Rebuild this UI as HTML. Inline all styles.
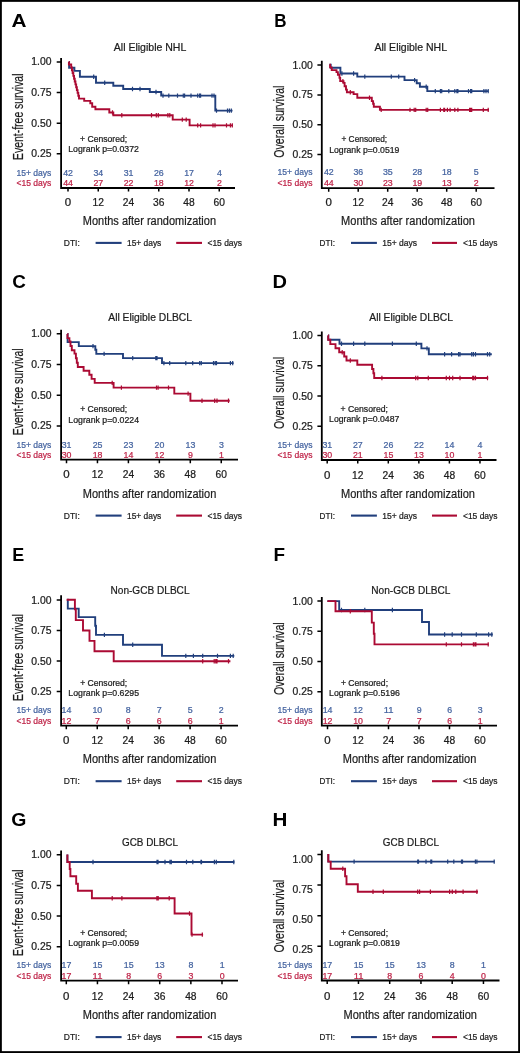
<!DOCTYPE html>
<html><head><meta charset="utf-8"><title>Kaplan-Meier curves</title>
<style>
html,body{margin:0;padding:0;background:#fff;}
body{width:520px;height:1053px;overflow:hidden;}
svg{display:block;font-family:"Liberation Sans", sans-serif;will-change:transform;}
</style></head>
<body>
<svg width="520" height="1053" viewBox="0 0 520 1053">
<rect x="0" y="0" width="520" height="1053" fill="#fff"/>
<rect x="0.9" y="0.9" width="518.2" height="1051.2" fill="none" stroke="#000" stroke-width="1.9"/>
<text x="11.50" y="27.20" font-size="18.9" fill="#000" font-weight="bold" text-anchor="start" textLength="15.02" lengthAdjust="spacingAndGlyphs">A</text>
<text x="113.80" y="50.50" font-size="11.4" fill="#1c1c1c" font-weight="normal" text-anchor="start" textLength="72.50" lengthAdjust="spacingAndGlyphs" stroke="#1c1c1c" stroke-width="0.24">All Eligible NHL</text>
<text transform="translate(22.90,160.00) rotate(-90)" x="0" y="0" font-size="14.4" fill="#1c1c1c" stroke="#1c1c1c" stroke-width="0.22" textLength="86.50" lengthAdjust="spacingAndGlyphs">Event-free survival</text>
<path d="M61.10,58.00V188.00H235.00" fill="none" stroke="#000" stroke-width="1.8" stroke-linejoin="miter"/>
<text x="51.50" y="65.40" font-size="10" fill="#1c1c1c" font-weight="normal" text-anchor="end" textLength="20.20" lengthAdjust="spacingAndGlyphs" stroke="#1c1c1c" stroke-width="0.24">1.00</text>
<text x="51.50" y="96.05" font-size="10" fill="#1c1c1c" font-weight="normal" text-anchor="end" textLength="20.20" lengthAdjust="spacingAndGlyphs" stroke="#1c1c1c" stroke-width="0.24">0.75</text>
<text x="51.50" y="126.70" font-size="10" fill="#1c1c1c" font-weight="normal" text-anchor="end" textLength="20.20" lengthAdjust="spacingAndGlyphs" stroke="#1c1c1c" stroke-width="0.24">0.50</text>
<text x="51.50" y="157.35" font-size="10" fill="#1c1c1c" font-weight="normal" text-anchor="end" textLength="20.20" lengthAdjust="spacingAndGlyphs" stroke="#1c1c1c" stroke-width="0.24">0.25</text>
<text x="68.00" y="205.60" font-size="10.2" fill="#1c1c1c" font-weight="normal" text-anchor="middle" textLength="6.40" lengthAdjust="spacingAndGlyphs" stroke="#1c1c1c" stroke-width="0.24">0</text>
<text x="98.25" y="205.60" font-size="10.2" fill="#1c1c1c" font-weight="normal" text-anchor="middle" textLength="11.40" lengthAdjust="spacingAndGlyphs" stroke="#1c1c1c" stroke-width="0.24">12</text>
<text x="128.50" y="205.60" font-size="10.2" fill="#1c1c1c" font-weight="normal" text-anchor="middle" textLength="11.40" lengthAdjust="spacingAndGlyphs" stroke="#1c1c1c" stroke-width="0.24">24</text>
<text x="158.75" y="205.60" font-size="10.2" fill="#1c1c1c" font-weight="normal" text-anchor="middle" textLength="11.40" lengthAdjust="spacingAndGlyphs" stroke="#1c1c1c" stroke-width="0.24">36</text>
<text x="189.00" y="205.60" font-size="10.2" fill="#1c1c1c" font-weight="normal" text-anchor="middle" textLength="11.40" lengthAdjust="spacingAndGlyphs" stroke="#1c1c1c" stroke-width="0.24">48</text>
<text x="219.25" y="205.60" font-size="10.2" fill="#1c1c1c" font-weight="normal" text-anchor="middle" textLength="11.40" lengthAdjust="spacingAndGlyphs" stroke="#1c1c1c" stroke-width="0.24">60</text>
<path d="M56.70,61.90H61.10M56.70,92.55H61.10M56.70,123.20H61.10M56.70,153.85H61.10M68.00,188.00V191.60M98.25,188.00V191.60M128.50,188.00V191.60M158.75,188.00V191.60M189.00,188.00V191.60M219.25,188.00V191.60" fill="none" stroke="#000" stroke-width="1.5"/>
<path d="M68.70,61.90H69.10V67.80H74.40V70.90H79.90V76.80H96.00V82.80H113.30V85.80H123.20V89.00H149.80V92.00H161.20V95.60H215.30V110.60H232.50" fill="none" stroke="#213f7c" stroke-width="1.9" stroke-linejoin="miter" stroke-linecap="butt"/>
<path d="M93.70,74.60V79.00M104.70,80.60V85.00M132.50,86.80V91.20M140.00,86.80V91.20M156.00,89.80V94.20M163.00,93.40V97.80M168.80,93.40V97.80M177.50,93.40V97.80M183.30,93.40V97.80M184.60,93.40V97.80M191.00,93.40V97.80M197.70,93.40V97.80M199.60,93.40V97.80M200.60,93.40V97.80M212.00,93.40V97.80M214.00,93.40V97.80M216.50,108.40V112.80M227.50,108.40V112.80M229.40,108.40V112.80M231.30,108.40V112.80" fill="none" stroke="#213f7c" stroke-width="1.2"/>
<path d="M68.70,61.90H68.90V64.50H71.20V67.34H71.91V70.18H72.62V73.03H73.33V75.87H74.04V78.71H74.75V81.55H75.45V84.39H76.16V87.23H76.87V90.08H77.58V92.92H78.29V95.76H79.00V98.60H84.20V100.90H90.30V103.30H92.20V106.70H95.40V109.30H109.30V112.50H113.30V115.30H172.70V119.60H189.60V125.40H233.00" fill="none" stroke="#ab0a33" stroke-width="1.9" stroke-linejoin="miter" stroke-linecap="butt"/>
<path d="M112.50,110.30V114.70M121.80,113.10V117.50M151.50,113.10V117.50M156.30,113.10V117.50M158.30,113.10V117.50M167.90,113.10V117.50M169.80,113.10V117.50M182.30,117.40V121.80M186.20,117.40V121.80M197.70,123.20V127.60M200.60,123.20V127.60M213.00,123.20V127.60M215.00,123.20V127.60M226.50,123.20V127.60M230.40,123.20V127.60M232.30,123.20V127.60" fill="none" stroke="#ab0a33" stroke-width="1.2"/>
<text x="103.60" y="141.90" font-size="9.1" fill="#1c1c1c" font-weight="normal" text-anchor="middle" textLength="47.10" lengthAdjust="spacingAndGlyphs" stroke="#1c1c1c" stroke-width="0.24">+ Censored;</text>
<text x="103.60" y="152.30" font-size="9.1" fill="#1c1c1c" font-weight="normal" text-anchor="middle" textLength="70.70" lengthAdjust="spacingAndGlyphs" stroke="#1c1c1c" stroke-width="0.24">Logrank p=0.0372</text>
<text x="16.50" y="175.50" font-size="9.5" fill="#4564a0" font-weight="normal" text-anchor="start" textLength="34.80" lengthAdjust="spacingAndGlyphs" stroke="#4564a0" stroke-width="0.24">15+ days</text>
<text x="16.50" y="185.80" font-size="9.5" fill="#bf2448" font-weight="normal" text-anchor="start" textLength="34.80" lengthAdjust="spacingAndGlyphs" stroke="#bf2448" stroke-width="0.24">&lt;15 days</text>
<text x="68.10" y="175.50" font-size="8.9" fill="#4564a0" font-weight="normal" text-anchor="middle" textLength="9.80" lengthAdjust="spacingAndGlyphs" stroke="#4564a0" stroke-width="0.24">42</text>
<text x="68.10" y="185.80" font-size="8.9" fill="#bf2448" font-weight="normal" text-anchor="middle" textLength="9.80" lengthAdjust="spacingAndGlyphs" stroke="#bf2448" stroke-width="0.24">44</text>
<text x="98.35" y="175.50" font-size="8.9" fill="#4564a0" font-weight="normal" text-anchor="middle" textLength="9.80" lengthAdjust="spacingAndGlyphs" stroke="#4564a0" stroke-width="0.24">34</text>
<text x="98.35" y="185.80" font-size="8.9" fill="#bf2448" font-weight="normal" text-anchor="middle" textLength="9.80" lengthAdjust="spacingAndGlyphs" stroke="#bf2448" stroke-width="0.24">27</text>
<text x="128.60" y="175.50" font-size="8.9" fill="#4564a0" font-weight="normal" text-anchor="middle" textLength="9.80" lengthAdjust="spacingAndGlyphs" stroke="#4564a0" stroke-width="0.24">31</text>
<text x="128.60" y="185.80" font-size="8.9" fill="#bf2448" font-weight="normal" text-anchor="middle" textLength="9.80" lengthAdjust="spacingAndGlyphs" stroke="#bf2448" stroke-width="0.24">22</text>
<text x="158.85" y="175.50" font-size="8.9" fill="#4564a0" font-weight="normal" text-anchor="middle" textLength="9.80" lengthAdjust="spacingAndGlyphs" stroke="#4564a0" stroke-width="0.24">26</text>
<text x="158.85" y="185.80" font-size="8.9" fill="#bf2448" font-weight="normal" text-anchor="middle" textLength="9.80" lengthAdjust="spacingAndGlyphs" stroke="#bf2448" stroke-width="0.24">18</text>
<text x="189.10" y="175.50" font-size="8.9" fill="#4564a0" font-weight="normal" text-anchor="middle" textLength="9.80" lengthAdjust="spacingAndGlyphs" stroke="#4564a0" stroke-width="0.24">17</text>
<text x="189.10" y="185.80" font-size="8.9" fill="#bf2448" font-weight="normal" text-anchor="middle" textLength="9.80" lengthAdjust="spacingAndGlyphs" stroke="#bf2448" stroke-width="0.24">12</text>
<text x="219.35" y="175.50" font-size="8.9" fill="#4564a0" font-weight="normal" text-anchor="middle" textLength="4.90" lengthAdjust="spacingAndGlyphs" stroke="#4564a0" stroke-width="0.24">4</text>
<text x="219.35" y="185.80" font-size="8.9" fill="#bf2448" font-weight="normal" text-anchor="middle" textLength="4.90" lengthAdjust="spacingAndGlyphs" stroke="#bf2448" stroke-width="0.24">2</text>
<text x="82.80" y="224.60" font-size="13.7" fill="#1c1c1c" font-weight="normal" text-anchor="start" textLength="133.20" lengthAdjust="spacingAndGlyphs" stroke="#1c1c1c" stroke-width="0.24">Months after randomization</text>
<text x="63.80" y="245.80" font-size="9.6" fill="#1c1c1c" font-weight="normal" text-anchor="start" textLength="16.00" lengthAdjust="spacingAndGlyphs" stroke="#1c1c1c" stroke-width="0.24">DTI:</text>
<path d="M95.60,242.90H121.60" stroke="#213f7c" stroke-width="2.1"/>
<text x="127.00" y="245.80" font-size="9.6" fill="#1c1c1c" font-weight="normal" text-anchor="start" textLength="34.30" lengthAdjust="spacingAndGlyphs" stroke="#1c1c1c" stroke-width="0.24">15+ days</text>
<path d="M176.20,242.90H202.00" stroke="#ab0a33" stroke-width="2.1"/>
<text x="207.50" y="245.80" font-size="9.6" fill="#1c1c1c" font-weight="normal" text-anchor="start" textLength="34.50" lengthAdjust="spacingAndGlyphs" stroke="#1c1c1c" stroke-width="0.24">&lt;15 days</text>
<text x="274.30" y="27.20" font-size="18.9" fill="#000" font-weight="bold" text-anchor="start" textLength="12.29" lengthAdjust="spacingAndGlyphs">B</text>
<text x="374.50" y="50.50" font-size="11.4" fill="#1c1c1c" font-weight="normal" text-anchor="start" textLength="72.50" lengthAdjust="spacingAndGlyphs" stroke="#1c1c1c" stroke-width="0.24">All Eligible NHL</text>
<text transform="translate(284.00,157.70) rotate(-90)" x="0" y="0" font-size="14.4" fill="#1c1c1c" stroke="#1c1c1c" stroke-width="0.22" textLength="72.10" lengthAdjust="spacingAndGlyphs">Overall survival</text>
<path d="M321.80,60.80V188.10H494.50" fill="none" stroke="#000" stroke-width="1.8" stroke-linejoin="miter"/>
<text x="312.70" y="68.60" font-size="10" fill="#1c1c1c" font-weight="normal" text-anchor="end" textLength="20.20" lengthAdjust="spacingAndGlyphs" stroke="#1c1c1c" stroke-width="0.24">1.00</text>
<text x="312.70" y="98.38" font-size="10" fill="#1c1c1c" font-weight="normal" text-anchor="end" textLength="20.20" lengthAdjust="spacingAndGlyphs" stroke="#1c1c1c" stroke-width="0.24">0.75</text>
<text x="312.70" y="128.15" font-size="10" fill="#1c1c1c" font-weight="normal" text-anchor="end" textLength="20.20" lengthAdjust="spacingAndGlyphs" stroke="#1c1c1c" stroke-width="0.24">0.50</text>
<text x="312.70" y="157.92" font-size="10" fill="#1c1c1c" font-weight="normal" text-anchor="end" textLength="20.20" lengthAdjust="spacingAndGlyphs" stroke="#1c1c1c" stroke-width="0.24">0.25</text>
<text x="328.70" y="205.60" font-size="10.2" fill="#1c1c1c" font-weight="normal" text-anchor="middle" textLength="6.40" lengthAdjust="spacingAndGlyphs" stroke="#1c1c1c" stroke-width="0.24">0</text>
<text x="358.20" y="205.60" font-size="10.2" fill="#1c1c1c" font-weight="normal" text-anchor="middle" textLength="11.40" lengthAdjust="spacingAndGlyphs" stroke="#1c1c1c" stroke-width="0.24">12</text>
<text x="387.70" y="205.60" font-size="10.2" fill="#1c1c1c" font-weight="normal" text-anchor="middle" textLength="11.40" lengthAdjust="spacingAndGlyphs" stroke="#1c1c1c" stroke-width="0.24">24</text>
<text x="417.20" y="205.60" font-size="10.2" fill="#1c1c1c" font-weight="normal" text-anchor="middle" textLength="11.40" lengthAdjust="spacingAndGlyphs" stroke="#1c1c1c" stroke-width="0.24">36</text>
<text x="446.70" y="205.60" font-size="10.2" fill="#1c1c1c" font-weight="normal" text-anchor="middle" textLength="11.40" lengthAdjust="spacingAndGlyphs" stroke="#1c1c1c" stroke-width="0.24">48</text>
<text x="476.20" y="205.60" font-size="10.2" fill="#1c1c1c" font-weight="normal" text-anchor="middle" textLength="11.40" lengthAdjust="spacingAndGlyphs" stroke="#1c1c1c" stroke-width="0.24">60</text>
<path d="M317.40,65.10H321.80M317.40,94.88H321.80M317.40,124.65H321.80M317.40,154.42H321.80M328.70,188.10V191.70M358.20,188.10V191.70M387.70,188.10V191.70M417.20,188.10V191.70M446.70,188.10V191.70M476.20,188.10V191.70" fill="none" stroke="#000" stroke-width="1.5"/>
<path d="M329.40,64.70H330.70V67.70H340.40V73.50H357.30V76.60H404.50V80.10H416.70V83.30H419.90V86.80H427.30V91.10H488.60" fill="none" stroke="#213f7c" stroke-width="1.9" stroke-linejoin="miter" stroke-linecap="butt"/>
<path d="M341.90,71.30V75.70M353.60,71.30V75.70M364.80,74.40V78.80M391.30,74.40V78.80M398.70,74.40V78.80M414.60,77.90V82.30M426.20,84.60V89.00M435.30,88.90V93.30M440.40,88.90V93.30M441.70,88.90V93.30M448.80,88.90V93.30M454.80,88.90V93.30M456.90,88.90V93.30M457.90,88.90V93.30M468.50,88.90V93.30M470.60,88.90V93.30M471.70,88.90V93.30M483.90,88.90V93.30M486.00,88.90V93.30M488.20,88.90V93.30" fill="none" stroke="#213f7c" stroke-width="1.2"/>
<path d="M329.40,64.70H330.10V67.40H331.70V70.10H336.50V72.10H337.90V74.80H339.50V77.90H340.20V81.10H343.50V82.90H344.60V86.30H346.00V89.60H346.90V92.30H353.60V94.10H357.30V97.70H371.80V101.10H373.10V103.80H373.80V106.70H379.90V109.90H489.00" fill="none" stroke="#ab0a33" stroke-width="1.9" stroke-linejoin="miter" stroke-linecap="butt"/>
<path d="M342.90,78.90V83.30M350.30,90.10V94.50M369.50,95.50V99.90M381.20,107.70V112.10M410.00,107.70V112.10M414.20,107.70V112.10M415.70,107.70V112.10M426.20,107.70V112.10M427.70,107.70V112.10M440.40,107.70V112.10M443.80,107.70V112.10M444.60,107.70V112.10M447.40,107.70V112.10M450.10,107.70V112.10M454.80,107.70V112.10M457.90,107.70V112.10M469.60,107.70V112.10M470.60,107.70V112.10M471.70,107.70V112.10M483.30,107.70V112.10M488.20,107.70V112.10" fill="none" stroke="#ab0a33" stroke-width="1.2"/>
<text x="364.30" y="142.30" font-size="9.1" fill="#1c1c1c" font-weight="normal" text-anchor="middle" textLength="45.80" lengthAdjust="spacingAndGlyphs" stroke="#1c1c1c" stroke-width="0.24">+ Censored;</text>
<text x="364.30" y="152.50" font-size="9.1" fill="#1c1c1c" font-weight="normal" text-anchor="middle" textLength="70.30" lengthAdjust="spacingAndGlyphs" stroke="#1c1c1c" stroke-width="0.24">Logrank p=0.0519</text>
<text x="277.50" y="175.20" font-size="9.5" fill="#4564a0" font-weight="normal" text-anchor="start" textLength="35.00" lengthAdjust="spacingAndGlyphs" stroke="#4564a0" stroke-width="0.24">15+ days</text>
<text x="277.50" y="185.60" font-size="9.5" fill="#bf2448" font-weight="normal" text-anchor="start" textLength="35.00" lengthAdjust="spacingAndGlyphs" stroke="#bf2448" stroke-width="0.24">&lt;15 days</text>
<text x="328.80" y="175.20" font-size="8.9" fill="#4564a0" font-weight="normal" text-anchor="middle" textLength="9.80" lengthAdjust="spacingAndGlyphs" stroke="#4564a0" stroke-width="0.24">42</text>
<text x="328.80" y="185.60" font-size="8.9" fill="#bf2448" font-weight="normal" text-anchor="middle" textLength="9.80" lengthAdjust="spacingAndGlyphs" stroke="#bf2448" stroke-width="0.24">44</text>
<text x="358.30" y="175.20" font-size="8.9" fill="#4564a0" font-weight="normal" text-anchor="middle" textLength="9.80" lengthAdjust="spacingAndGlyphs" stroke="#4564a0" stroke-width="0.24">36</text>
<text x="358.30" y="185.60" font-size="8.9" fill="#bf2448" font-weight="normal" text-anchor="middle" textLength="9.80" lengthAdjust="spacingAndGlyphs" stroke="#bf2448" stroke-width="0.24">30</text>
<text x="387.80" y="175.20" font-size="8.9" fill="#4564a0" font-weight="normal" text-anchor="middle" textLength="9.80" lengthAdjust="spacingAndGlyphs" stroke="#4564a0" stroke-width="0.24">35</text>
<text x="387.80" y="185.60" font-size="8.9" fill="#bf2448" font-weight="normal" text-anchor="middle" textLength="9.80" lengthAdjust="spacingAndGlyphs" stroke="#bf2448" stroke-width="0.24">23</text>
<text x="417.30" y="175.20" font-size="8.9" fill="#4564a0" font-weight="normal" text-anchor="middle" textLength="9.80" lengthAdjust="spacingAndGlyphs" stroke="#4564a0" stroke-width="0.24">28</text>
<text x="417.30" y="185.60" font-size="8.9" fill="#bf2448" font-weight="normal" text-anchor="middle" textLength="9.80" lengthAdjust="spacingAndGlyphs" stroke="#bf2448" stroke-width="0.24">19</text>
<text x="446.80" y="175.20" font-size="8.9" fill="#4564a0" font-weight="normal" text-anchor="middle" textLength="9.80" lengthAdjust="spacingAndGlyphs" stroke="#4564a0" stroke-width="0.24">18</text>
<text x="446.80" y="185.60" font-size="8.9" fill="#bf2448" font-weight="normal" text-anchor="middle" textLength="9.80" lengthAdjust="spacingAndGlyphs" stroke="#bf2448" stroke-width="0.24">13</text>
<text x="476.30" y="175.20" font-size="8.9" fill="#4564a0" font-weight="normal" text-anchor="middle" textLength="4.90" lengthAdjust="spacingAndGlyphs" stroke="#4564a0" stroke-width="0.24">5</text>
<text x="476.30" y="185.60" font-size="8.9" fill="#bf2448" font-weight="normal" text-anchor="middle" textLength="4.90" lengthAdjust="spacingAndGlyphs" stroke="#bf2448" stroke-width="0.24">2</text>
<text x="341.10" y="224.60" font-size="13.7" fill="#1c1c1c" font-weight="normal" text-anchor="start" textLength="133.90" lengthAdjust="spacingAndGlyphs" stroke="#1c1c1c" stroke-width="0.24">Months after randomization</text>
<text x="319.60" y="245.80" font-size="9.6" fill="#1c1c1c" font-weight="normal" text-anchor="start" textLength="15.40" lengthAdjust="spacingAndGlyphs" stroke="#1c1c1c" stroke-width="0.24">DTI:</text>
<path d="M351.00,242.90H376.90" stroke="#213f7c" stroke-width="2.1"/>
<text x="382.20" y="245.80" font-size="9.6" fill="#1c1c1c" font-weight="normal" text-anchor="start" textLength="34.80" lengthAdjust="spacingAndGlyphs" stroke="#1c1c1c" stroke-width="0.24">15+ days</text>
<path d="M432.00,242.90H457.00" stroke="#ab0a33" stroke-width="2.1"/>
<text x="463.00" y="245.80" font-size="9.6" fill="#1c1c1c" font-weight="normal" text-anchor="start" textLength="34.50" lengthAdjust="spacingAndGlyphs" stroke="#1c1c1c" stroke-width="0.24">&lt;15 days</text>
<text x="12.20" y="287.50" font-size="18.9" fill="#000" font-weight="bold" text-anchor="start" textLength="13.65" lengthAdjust="spacingAndGlyphs">C</text>
<text x="108.30" y="321.30" font-size="11.4" fill="#1c1c1c" font-weight="normal" text-anchor="start" textLength="83.70" lengthAdjust="spacingAndGlyphs" stroke="#1c1c1c" stroke-width="0.24">All Eligible DLBCL</text>
<text transform="translate(22.90,435.30) rotate(-90)" x="0" y="0" font-size="14.4" fill="#1c1c1c" stroke="#1c1c1c" stroke-width="0.22" textLength="87.00" lengthAdjust="spacingAndGlyphs">Event-free survival</text>
<path d="M61.10,329.80V459.70H238.00" fill="none" stroke="#000" stroke-width="1.8" stroke-linejoin="miter"/>
<text x="51.50" y="337.30" font-size="10" fill="#1c1c1c" font-weight="normal" text-anchor="end" textLength="20.20" lengthAdjust="spacingAndGlyphs" stroke="#1c1c1c" stroke-width="0.24">1.00</text>
<text x="51.50" y="368.00" font-size="10" fill="#1c1c1c" font-weight="normal" text-anchor="end" textLength="20.20" lengthAdjust="spacingAndGlyphs" stroke="#1c1c1c" stroke-width="0.24">0.75</text>
<text x="51.50" y="398.70" font-size="10" fill="#1c1c1c" font-weight="normal" text-anchor="end" textLength="20.20" lengthAdjust="spacingAndGlyphs" stroke="#1c1c1c" stroke-width="0.24">0.50</text>
<text x="51.50" y="429.40" font-size="10" fill="#1c1c1c" font-weight="normal" text-anchor="end" textLength="20.20" lengthAdjust="spacingAndGlyphs" stroke="#1c1c1c" stroke-width="0.24">0.25</text>
<text x="66.50" y="478.40" font-size="10.2" fill="#1c1c1c" font-weight="normal" text-anchor="middle" textLength="6.40" lengthAdjust="spacingAndGlyphs" stroke="#1c1c1c" stroke-width="0.24">0</text>
<text x="97.45" y="478.40" font-size="10.2" fill="#1c1c1c" font-weight="normal" text-anchor="middle" textLength="11.40" lengthAdjust="spacingAndGlyphs" stroke="#1c1c1c" stroke-width="0.24">12</text>
<text x="128.40" y="478.40" font-size="10.2" fill="#1c1c1c" font-weight="normal" text-anchor="middle" textLength="11.40" lengthAdjust="spacingAndGlyphs" stroke="#1c1c1c" stroke-width="0.24">24</text>
<text x="159.35" y="478.40" font-size="10.2" fill="#1c1c1c" font-weight="normal" text-anchor="middle" textLength="11.40" lengthAdjust="spacingAndGlyphs" stroke="#1c1c1c" stroke-width="0.24">36</text>
<text x="190.30" y="478.40" font-size="10.2" fill="#1c1c1c" font-weight="normal" text-anchor="middle" textLength="11.40" lengthAdjust="spacingAndGlyphs" stroke="#1c1c1c" stroke-width="0.24">48</text>
<text x="221.25" y="478.40" font-size="10.2" fill="#1c1c1c" font-weight="normal" text-anchor="middle" textLength="11.40" lengthAdjust="spacingAndGlyphs" stroke="#1c1c1c" stroke-width="0.24">60</text>
<path d="M56.70,333.80H61.10M56.70,364.50H61.10M56.70,395.20H61.10M56.70,425.90H61.10M66.50,459.70V463.30M97.45,459.70V463.30M128.40,459.70V463.30M159.35,459.70V463.30M190.30,459.70V463.30M221.25,459.70V463.30" fill="none" stroke="#000" stroke-width="1.5"/>
<path d="M67.40,333.90H67.60V342.10H78.80V346.10H95.30V349.80H96.30V353.90H123.00V358.10H162.00V363.10H233.60" fill="none" stroke="#213f7c" stroke-width="1.9" stroke-linejoin="miter" stroke-linecap="butt"/>
<path d="M93.00,343.90V348.30M104.10,351.70V356.10M132.70,355.90V360.30M155.80,355.90V360.30M157.00,355.90V360.30M163.90,360.90V365.30M169.70,360.90V365.30M185.80,360.90V365.30M192.70,360.90V365.30M199.70,360.90V365.30M201.30,360.90V365.30M213.50,360.90V365.30M215.20,360.90V365.30M216.50,360.90V365.30M230.40,360.90V365.30M232.70,360.90V365.30" fill="none" stroke="#213f7c" stroke-width="1.2"/>
<path d="M67.40,333.90H67.50V338.10H69.40V341.50H70.50V346.00H71.80V350.20H74.50V353.60H75.90V358.30H76.80V362.70H77.80V367.00H83.60V370.80H89.30V374.80H91.60V378.90H94.70V382.90H113.60V387.60H174.30V393.60H190.40V400.70H229.70" fill="none" stroke="#ab0a33" stroke-width="1.9" stroke-linejoin="miter" stroke-linecap="butt"/>
<path d="M112.20,380.70V385.10M121.40,385.40V389.80M156.50,385.40V389.80M158.10,385.40V389.80M168.50,385.40V389.80M188.10,391.40V395.80M202.00,398.50V402.90M214.70,398.50V402.90M217.00,398.50V402.90M228.50,398.50V402.90" fill="none" stroke="#ab0a33" stroke-width="1.2"/>
<text x="103.70" y="412.30" font-size="9.1" fill="#1c1c1c" font-weight="normal" text-anchor="middle" textLength="47.10" lengthAdjust="spacingAndGlyphs" stroke="#1c1c1c" stroke-width="0.24">+ Censored;</text>
<text x="103.70" y="422.90" font-size="9.1" fill="#1c1c1c" font-weight="normal" text-anchor="middle" textLength="70.70" lengthAdjust="spacingAndGlyphs" stroke="#1c1c1c" stroke-width="0.24">Logrank p=0.0224</text>
<text x="16.50" y="447.90" font-size="9.5" fill="#4564a0" font-weight="normal" text-anchor="start" textLength="34.80" lengthAdjust="spacingAndGlyphs" stroke="#4564a0" stroke-width="0.24">15+ days</text>
<text x="16.50" y="458.40" font-size="9.5" fill="#bf2448" font-weight="normal" text-anchor="start" textLength="34.80" lengthAdjust="spacingAndGlyphs" stroke="#bf2448" stroke-width="0.24">&lt;15 days</text>
<text x="66.60" y="447.90" font-size="8.9" fill="#4564a0" font-weight="normal" text-anchor="middle" textLength="9.80" lengthAdjust="spacingAndGlyphs" stroke="#4564a0" stroke-width="0.24">31</text>
<text x="66.60" y="458.40" font-size="8.9" fill="#bf2448" font-weight="normal" text-anchor="middle" textLength="9.80" lengthAdjust="spacingAndGlyphs" stroke="#bf2448" stroke-width="0.24">30</text>
<text x="97.55" y="447.90" font-size="8.9" fill="#4564a0" font-weight="normal" text-anchor="middle" textLength="9.80" lengthAdjust="spacingAndGlyphs" stroke="#4564a0" stroke-width="0.24">25</text>
<text x="97.55" y="458.40" font-size="8.9" fill="#bf2448" font-weight="normal" text-anchor="middle" textLength="9.80" lengthAdjust="spacingAndGlyphs" stroke="#bf2448" stroke-width="0.24">18</text>
<text x="128.50" y="447.90" font-size="8.9" fill="#4564a0" font-weight="normal" text-anchor="middle" textLength="9.80" lengthAdjust="spacingAndGlyphs" stroke="#4564a0" stroke-width="0.24">23</text>
<text x="128.50" y="458.40" font-size="8.9" fill="#bf2448" font-weight="normal" text-anchor="middle" textLength="9.80" lengthAdjust="spacingAndGlyphs" stroke="#bf2448" stroke-width="0.24">14</text>
<text x="159.45" y="447.90" font-size="8.9" fill="#4564a0" font-weight="normal" text-anchor="middle" textLength="9.80" lengthAdjust="spacingAndGlyphs" stroke="#4564a0" stroke-width="0.24">20</text>
<text x="159.45" y="458.40" font-size="8.9" fill="#bf2448" font-weight="normal" text-anchor="middle" textLength="9.80" lengthAdjust="spacingAndGlyphs" stroke="#bf2448" stroke-width="0.24">12</text>
<text x="190.40" y="447.90" font-size="8.9" fill="#4564a0" font-weight="normal" text-anchor="middle" textLength="9.80" lengthAdjust="spacingAndGlyphs" stroke="#4564a0" stroke-width="0.24">13</text>
<text x="190.40" y="458.40" font-size="8.9" fill="#bf2448" font-weight="normal" text-anchor="middle" textLength="4.90" lengthAdjust="spacingAndGlyphs" stroke="#bf2448" stroke-width="0.24">9</text>
<text x="221.35" y="447.90" font-size="8.9" fill="#4564a0" font-weight="normal" text-anchor="middle" textLength="4.90" lengthAdjust="spacingAndGlyphs" stroke="#4564a0" stroke-width="0.24">3</text>
<text x="221.35" y="458.40" font-size="8.9" fill="#bf2448" font-weight="normal" text-anchor="middle" textLength="4.90" lengthAdjust="spacingAndGlyphs" stroke="#bf2448" stroke-width="0.24">1</text>
<text x="82.80" y="497.50" font-size="13.7" fill="#1c1c1c" font-weight="normal" text-anchor="start" textLength="133.50" lengthAdjust="spacingAndGlyphs" stroke="#1c1c1c" stroke-width="0.24">Months after randomization</text>
<text x="63.80" y="518.80" font-size="9.6" fill="#1c1c1c" font-weight="normal" text-anchor="start" textLength="16.00" lengthAdjust="spacingAndGlyphs" stroke="#1c1c1c" stroke-width="0.24">DTI:</text>
<path d="M95.60,515.60H121.60" stroke="#213f7c" stroke-width="2.1"/>
<text x="127.00" y="518.80" font-size="9.6" fill="#1c1c1c" font-weight="normal" text-anchor="start" textLength="34.30" lengthAdjust="spacingAndGlyphs" stroke="#1c1c1c" stroke-width="0.24">15+ days</text>
<path d="M176.20,515.60H202.00" stroke="#ab0a33" stroke-width="2.1"/>
<text x="207.50" y="518.80" font-size="9.6" fill="#1c1c1c" font-weight="normal" text-anchor="start" textLength="34.50" lengthAdjust="spacingAndGlyphs" stroke="#1c1c1c" stroke-width="0.24">&lt;15 days</text>
<text x="272.60" y="287.50" font-size="18.9" fill="#000" font-weight="bold" text-anchor="start" textLength="14.47" lengthAdjust="spacingAndGlyphs">D</text>
<text x="369.30" y="321.30" font-size="11.4" fill="#1c1c1c" font-weight="normal" text-anchor="start" textLength="83.70" lengthAdjust="spacingAndGlyphs" stroke="#1c1c1c" stroke-width="0.24">All Eligible DLBCL</text>
<text transform="translate(284.00,429.00) rotate(-90)" x="0" y="0" font-size="14.4" fill="#1c1c1c" stroke="#1c1c1c" stroke-width="0.22" textLength="72.10" lengthAdjust="spacingAndGlyphs">Overall survival</text>
<path d="M321.80,331.50V460.00H496.50" fill="none" stroke="#000" stroke-width="1.8" stroke-linejoin="miter"/>
<text x="312.70" y="339.10" font-size="10" fill="#1c1c1c" font-weight="normal" text-anchor="end" textLength="20.20" lengthAdjust="spacingAndGlyphs" stroke="#1c1c1c" stroke-width="0.24">1.00</text>
<text x="312.70" y="369.33" font-size="10" fill="#1c1c1c" font-weight="normal" text-anchor="end" textLength="20.20" lengthAdjust="spacingAndGlyphs" stroke="#1c1c1c" stroke-width="0.24">0.75</text>
<text x="312.70" y="399.55" font-size="10" fill="#1c1c1c" font-weight="normal" text-anchor="end" textLength="20.20" lengthAdjust="spacingAndGlyphs" stroke="#1c1c1c" stroke-width="0.24">0.50</text>
<text x="312.70" y="429.77" font-size="10" fill="#1c1c1c" font-weight="normal" text-anchor="end" textLength="20.20" lengthAdjust="spacingAndGlyphs" stroke="#1c1c1c" stroke-width="0.24">0.25</text>
<text x="327.20" y="478.70" font-size="10.2" fill="#1c1c1c" font-weight="normal" text-anchor="middle" textLength="6.40" lengthAdjust="spacingAndGlyphs" stroke="#1c1c1c" stroke-width="0.24">0</text>
<text x="357.75" y="478.70" font-size="10.2" fill="#1c1c1c" font-weight="normal" text-anchor="middle" textLength="11.40" lengthAdjust="spacingAndGlyphs" stroke="#1c1c1c" stroke-width="0.24">12</text>
<text x="388.30" y="478.70" font-size="10.2" fill="#1c1c1c" font-weight="normal" text-anchor="middle" textLength="11.40" lengthAdjust="spacingAndGlyphs" stroke="#1c1c1c" stroke-width="0.24">24</text>
<text x="418.85" y="478.70" font-size="10.2" fill="#1c1c1c" font-weight="normal" text-anchor="middle" textLength="11.40" lengthAdjust="spacingAndGlyphs" stroke="#1c1c1c" stroke-width="0.24">36</text>
<text x="449.40" y="478.70" font-size="10.2" fill="#1c1c1c" font-weight="normal" text-anchor="middle" textLength="11.40" lengthAdjust="spacingAndGlyphs" stroke="#1c1c1c" stroke-width="0.24">48</text>
<text x="479.95" y="478.70" font-size="10.2" fill="#1c1c1c" font-weight="normal" text-anchor="middle" textLength="11.40" lengthAdjust="spacingAndGlyphs" stroke="#1c1c1c" stroke-width="0.24">60</text>
<path d="M317.40,335.60H321.80M317.40,365.83H321.80M317.40,396.05H321.80M317.40,426.27H321.80M327.20,460.00V463.60M357.75,460.00V463.60M388.30,460.00V463.60M418.85,460.00V463.60M449.40,460.00V463.60M479.95,460.00V463.60" fill="none" stroke="#000" stroke-width="1.5"/>
<path d="M328.10,335.40H328.30V339.70H339.50V343.80H421.40V348.40H428.80V354.30H491.80" fill="none" stroke="#213f7c" stroke-width="1.9" stroke-linejoin="miter" stroke-linecap="butt"/>
<path d="M341.50,341.60V346.00M353.60,341.60V346.00M364.80,341.60V346.00M392.40,341.60V346.00M416.30,341.60V346.00M427.00,346.20V350.60M444.60,352.10V356.50M451.60,352.10V356.50M458.60,352.10V356.50M460.00,352.10V356.50M471.70,352.10V356.50M473.40,352.10V356.50M475.50,352.10V356.50M487.50,352.10V356.50M489.70,352.10V356.50" fill="none" stroke="#213f7c" stroke-width="1.2"/>
<path d="M328.10,335.40H328.20V339.80H330.30V344.10H335.50V348.20H339.20V352.30H344.20V356.50H346.50V360.50H357.30V364.70H372.10V369.00H373.40V373.30H374.20V378.00H488.20" fill="none" stroke="#ab0a33" stroke-width="1.9" stroke-linejoin="miter" stroke-linecap="butt"/>
<path d="M342.20,350.10V354.50M350.30,358.30V362.70M381.90,375.80V380.20M415.70,375.80V380.20M417.80,375.80V380.20M428.30,375.80V380.20M446.30,375.80V380.20M449.50,375.80V380.20M452.70,375.80V380.20M460.00,375.80V380.20M472.70,375.80V380.20M473.80,375.80V380.20M475.50,375.80V380.20M487.50,375.80V380.20" fill="none" stroke="#ab0a33" stroke-width="1.2"/>
<text x="364.20" y="412.30" font-size="9.1" fill="#1c1c1c" font-weight="normal" text-anchor="middle" textLength="47.50" lengthAdjust="spacingAndGlyphs" stroke="#1c1c1c" stroke-width="0.24">+ Censored;</text>
<text x="364.20" y="422.30" font-size="9.1" fill="#1c1c1c" font-weight="normal" text-anchor="middle" textLength="70.20" lengthAdjust="spacingAndGlyphs" stroke="#1c1c1c" stroke-width="0.24">Logrank p=0.0487</text>
<text x="277.50" y="447.90" font-size="9.5" fill="#4564a0" font-weight="normal" text-anchor="start" textLength="35.00" lengthAdjust="spacingAndGlyphs" stroke="#4564a0" stroke-width="0.24">15+ days</text>
<text x="277.50" y="458.40" font-size="9.5" fill="#bf2448" font-weight="normal" text-anchor="start" textLength="35.00" lengthAdjust="spacingAndGlyphs" stroke="#bf2448" stroke-width="0.24">&lt;15 days</text>
<text x="327.30" y="447.90" font-size="8.9" fill="#4564a0" font-weight="normal" text-anchor="middle" textLength="9.80" lengthAdjust="spacingAndGlyphs" stroke="#4564a0" stroke-width="0.24">31</text>
<text x="327.30" y="458.40" font-size="8.9" fill="#bf2448" font-weight="normal" text-anchor="middle" textLength="9.80" lengthAdjust="spacingAndGlyphs" stroke="#bf2448" stroke-width="0.24">30</text>
<text x="357.85" y="447.90" font-size="8.9" fill="#4564a0" font-weight="normal" text-anchor="middle" textLength="9.80" lengthAdjust="spacingAndGlyphs" stroke="#4564a0" stroke-width="0.24">27</text>
<text x="357.85" y="458.40" font-size="8.9" fill="#bf2448" font-weight="normal" text-anchor="middle" textLength="9.80" lengthAdjust="spacingAndGlyphs" stroke="#bf2448" stroke-width="0.24">21</text>
<text x="388.40" y="447.90" font-size="8.9" fill="#4564a0" font-weight="normal" text-anchor="middle" textLength="9.80" lengthAdjust="spacingAndGlyphs" stroke="#4564a0" stroke-width="0.24">26</text>
<text x="388.40" y="458.40" font-size="8.9" fill="#bf2448" font-weight="normal" text-anchor="middle" textLength="9.80" lengthAdjust="spacingAndGlyphs" stroke="#bf2448" stroke-width="0.24">15</text>
<text x="418.95" y="447.90" font-size="8.9" fill="#4564a0" font-weight="normal" text-anchor="middle" textLength="9.80" lengthAdjust="spacingAndGlyphs" stroke="#4564a0" stroke-width="0.24">22</text>
<text x="418.95" y="458.40" font-size="8.9" fill="#bf2448" font-weight="normal" text-anchor="middle" textLength="9.80" lengthAdjust="spacingAndGlyphs" stroke="#bf2448" stroke-width="0.24">13</text>
<text x="449.50" y="447.90" font-size="8.9" fill="#4564a0" font-weight="normal" text-anchor="middle" textLength="9.80" lengthAdjust="spacingAndGlyphs" stroke="#4564a0" stroke-width="0.24">14</text>
<text x="449.50" y="458.40" font-size="8.9" fill="#bf2448" font-weight="normal" text-anchor="middle" textLength="9.80" lengthAdjust="spacingAndGlyphs" stroke="#bf2448" stroke-width="0.24">10</text>
<text x="480.05" y="447.90" font-size="8.9" fill="#4564a0" font-weight="normal" text-anchor="middle" textLength="4.90" lengthAdjust="spacingAndGlyphs" stroke="#4564a0" stroke-width="0.24">4</text>
<text x="480.05" y="458.40" font-size="8.9" fill="#bf2448" font-weight="normal" text-anchor="middle" textLength="4.90" lengthAdjust="spacingAndGlyphs" stroke="#bf2448" stroke-width="0.24">1</text>
<text x="341.00" y="497.50" font-size="13.7" fill="#1c1c1c" font-weight="normal" text-anchor="start" textLength="134.00" lengthAdjust="spacingAndGlyphs" stroke="#1c1c1c" stroke-width="0.24">Months after randomization</text>
<text x="319.60" y="518.80" font-size="9.6" fill="#1c1c1c" font-weight="normal" text-anchor="start" textLength="15.40" lengthAdjust="spacingAndGlyphs" stroke="#1c1c1c" stroke-width="0.24">DTI:</text>
<path d="M351.00,515.60H376.90" stroke="#213f7c" stroke-width="2.1"/>
<text x="382.20" y="518.80" font-size="9.6" fill="#1c1c1c" font-weight="normal" text-anchor="start" textLength="34.80" lengthAdjust="spacingAndGlyphs" stroke="#1c1c1c" stroke-width="0.24">15+ days</text>
<path d="M432.00,515.60H457.00" stroke="#ab0a33" stroke-width="2.1"/>
<text x="463.00" y="518.80" font-size="9.6" fill="#1c1c1c" font-weight="normal" text-anchor="start" textLength="34.50" lengthAdjust="spacingAndGlyphs" stroke="#1c1c1c" stroke-width="0.24">&lt;15 days</text>
<text x="12.30" y="560.50" font-size="18.9" fill="#000" font-weight="bold" text-anchor="start" textLength="11.98" lengthAdjust="spacingAndGlyphs">E</text>
<text x="110.50" y="594.30" font-size="11.4" fill="#1c1c1c" font-weight="normal" text-anchor="start" textLength="79.00" lengthAdjust="spacingAndGlyphs" stroke="#1c1c1c" stroke-width="0.24">Non-GCB DLBCL</text>
<text transform="translate(22.90,701.00) rotate(-90)" x="0" y="0" font-size="14.4" fill="#1c1c1c" stroke="#1c1c1c" stroke-width="0.22" textLength="86.80" lengthAdjust="spacingAndGlyphs">Event-free survival</text>
<path d="M61.10,595.20V725.60H238.00" fill="none" stroke="#000" stroke-width="1.8" stroke-linejoin="miter"/>
<text x="51.50" y="603.60" font-size="10" fill="#1c1c1c" font-weight="normal" text-anchor="end" textLength="20.20" lengthAdjust="spacingAndGlyphs" stroke="#1c1c1c" stroke-width="0.24">1.00</text>
<text x="51.50" y="634.08" font-size="10" fill="#1c1c1c" font-weight="normal" text-anchor="end" textLength="20.20" lengthAdjust="spacingAndGlyphs" stroke="#1c1c1c" stroke-width="0.24">0.75</text>
<text x="51.50" y="664.55" font-size="10" fill="#1c1c1c" font-weight="normal" text-anchor="end" textLength="20.20" lengthAdjust="spacingAndGlyphs" stroke="#1c1c1c" stroke-width="0.24">0.50</text>
<text x="51.50" y="695.02" font-size="10" fill="#1c1c1c" font-weight="normal" text-anchor="end" textLength="20.20" lengthAdjust="spacingAndGlyphs" stroke="#1c1c1c" stroke-width="0.24">0.25</text>
<text x="66.30" y="744.40" font-size="10.2" fill="#1c1c1c" font-weight="normal" text-anchor="middle" textLength="6.40" lengthAdjust="spacingAndGlyphs" stroke="#1c1c1c" stroke-width="0.24">0</text>
<text x="97.25" y="744.40" font-size="10.2" fill="#1c1c1c" font-weight="normal" text-anchor="middle" textLength="11.40" lengthAdjust="spacingAndGlyphs" stroke="#1c1c1c" stroke-width="0.24">12</text>
<text x="128.20" y="744.40" font-size="10.2" fill="#1c1c1c" font-weight="normal" text-anchor="middle" textLength="11.40" lengthAdjust="spacingAndGlyphs" stroke="#1c1c1c" stroke-width="0.24">24</text>
<text x="159.15" y="744.40" font-size="10.2" fill="#1c1c1c" font-weight="normal" text-anchor="middle" textLength="11.40" lengthAdjust="spacingAndGlyphs" stroke="#1c1c1c" stroke-width="0.24">36</text>
<text x="190.10" y="744.40" font-size="10.2" fill="#1c1c1c" font-weight="normal" text-anchor="middle" textLength="11.40" lengthAdjust="spacingAndGlyphs" stroke="#1c1c1c" stroke-width="0.24">48</text>
<text x="221.05" y="744.40" font-size="10.2" fill="#1c1c1c" font-weight="normal" text-anchor="middle" textLength="11.40" lengthAdjust="spacingAndGlyphs" stroke="#1c1c1c" stroke-width="0.24">60</text>
<path d="M56.70,600.10H61.10M56.70,630.58H61.10M56.70,661.05H61.10M56.70,691.52H61.10M66.30,725.60V729.20M97.25,725.60V729.20M128.20,725.60V729.20M159.15,725.60V729.20M190.10,725.60V729.20M221.05,725.60V729.20" fill="none" stroke="#000" stroke-width="1.5"/>
<path d="M67.20,599.80H67.80V608.60H78.70V617.10H95.20V625.90H96.00V634.90H123.00V644.80H162.00V655.90H234.30" fill="none" stroke="#213f7c" stroke-width="1.9" stroke-linejoin="miter" stroke-linecap="butt"/>
<path d="M95.60,623.70V628.10M104.40,632.70V637.10M132.70,642.60V647.00M185.80,653.70V658.10M193.40,653.70V658.10M202.70,653.70V658.10M217.50,653.70V658.10M230.40,653.70V658.10M233.20,653.70V658.10" fill="none" stroke="#213f7c" stroke-width="1.2"/>
<path d="M66.60,599.80H74.90V609.40H75.80V620.10H83.00V630.50H89.50V640.90H94.50V651.30H113.70V661.20H230.40" fill="none" stroke="#ab0a33" stroke-width="1.9" stroke-linejoin="miter" stroke-linecap="butt"/>
<path d="M202.70,659.00V663.40M214.20,659.00V663.40M215.80,659.00V663.40M217.00,659.00V663.40M228.50,659.00V663.40" fill="none" stroke="#ab0a33" stroke-width="1.2"/>
<text x="103.70" y="685.60" font-size="9.1" fill="#1c1c1c" font-weight="normal" text-anchor="middle" textLength="47.10" lengthAdjust="spacingAndGlyphs" stroke="#1c1c1c" stroke-width="0.24">+ Censored;</text>
<text x="103.70" y="696.20" font-size="9.1" fill="#1c1c1c" font-weight="normal" text-anchor="middle" textLength="70.70" lengthAdjust="spacingAndGlyphs" stroke="#1c1c1c" stroke-width="0.24">Logrank p=0.6295</text>
<text x="16.50" y="713.30" font-size="9.5" fill="#4564a0" font-weight="normal" text-anchor="start" textLength="34.80" lengthAdjust="spacingAndGlyphs" stroke="#4564a0" stroke-width="0.24">15+ days</text>
<text x="16.50" y="724.10" font-size="9.5" fill="#bf2448" font-weight="normal" text-anchor="start" textLength="34.80" lengthAdjust="spacingAndGlyphs" stroke="#bf2448" stroke-width="0.24">&lt;15 days</text>
<text x="66.40" y="713.30" font-size="8.9" fill="#4564a0" font-weight="normal" text-anchor="middle" textLength="9.80" lengthAdjust="spacingAndGlyphs" stroke="#4564a0" stroke-width="0.24">14</text>
<text x="66.40" y="724.10" font-size="8.9" fill="#bf2448" font-weight="normal" text-anchor="middle" textLength="9.80" lengthAdjust="spacingAndGlyphs" stroke="#bf2448" stroke-width="0.24">12</text>
<text x="97.35" y="713.30" font-size="8.9" fill="#4564a0" font-weight="normal" text-anchor="middle" textLength="9.80" lengthAdjust="spacingAndGlyphs" stroke="#4564a0" stroke-width="0.24">10</text>
<text x="97.35" y="724.10" font-size="8.9" fill="#bf2448" font-weight="normal" text-anchor="middle" textLength="4.90" lengthAdjust="spacingAndGlyphs" stroke="#bf2448" stroke-width="0.24">7</text>
<text x="128.30" y="713.30" font-size="8.9" fill="#4564a0" font-weight="normal" text-anchor="middle" textLength="4.90" lengthAdjust="spacingAndGlyphs" stroke="#4564a0" stroke-width="0.24">8</text>
<text x="128.30" y="724.10" font-size="8.9" fill="#bf2448" font-weight="normal" text-anchor="middle" textLength="4.90" lengthAdjust="spacingAndGlyphs" stroke="#bf2448" stroke-width="0.24">6</text>
<text x="159.25" y="713.30" font-size="8.9" fill="#4564a0" font-weight="normal" text-anchor="middle" textLength="4.90" lengthAdjust="spacingAndGlyphs" stroke="#4564a0" stroke-width="0.24">7</text>
<text x="159.25" y="724.10" font-size="8.9" fill="#bf2448" font-weight="normal" text-anchor="middle" textLength="4.90" lengthAdjust="spacingAndGlyphs" stroke="#bf2448" stroke-width="0.24">6</text>
<text x="190.20" y="713.30" font-size="8.9" fill="#4564a0" font-weight="normal" text-anchor="middle" textLength="4.90" lengthAdjust="spacingAndGlyphs" stroke="#4564a0" stroke-width="0.24">5</text>
<text x="190.20" y="724.10" font-size="8.9" fill="#bf2448" font-weight="normal" text-anchor="middle" textLength="4.90" lengthAdjust="spacingAndGlyphs" stroke="#bf2448" stroke-width="0.24">6</text>
<text x="221.15" y="713.30" font-size="8.9" fill="#4564a0" font-weight="normal" text-anchor="middle" textLength="4.90" lengthAdjust="spacingAndGlyphs" stroke="#4564a0" stroke-width="0.24">2</text>
<text x="221.15" y="724.10" font-size="8.9" fill="#bf2448" font-weight="normal" text-anchor="middle" textLength="4.90" lengthAdjust="spacingAndGlyphs" stroke="#bf2448" stroke-width="0.24">1</text>
<text x="82.80" y="763.20" font-size="13.7" fill="#1c1c1c" font-weight="normal" text-anchor="start" textLength="133.50" lengthAdjust="spacingAndGlyphs" stroke="#1c1c1c" stroke-width="0.24">Months after randomization</text>
<text x="63.80" y="784.30" font-size="9.6" fill="#1c1c1c" font-weight="normal" text-anchor="start" textLength="16.00" lengthAdjust="spacingAndGlyphs" stroke="#1c1c1c" stroke-width="0.24">DTI:</text>
<path d="M95.60,781.20H121.60" stroke="#213f7c" stroke-width="2.1"/>
<text x="127.00" y="784.30" font-size="9.6" fill="#1c1c1c" font-weight="normal" text-anchor="start" textLength="34.30" lengthAdjust="spacingAndGlyphs" stroke="#1c1c1c" stroke-width="0.24">15+ days</text>
<path d="M176.20,781.20H202.00" stroke="#ab0a33" stroke-width="2.1"/>
<text x="207.50" y="784.30" font-size="9.6" fill="#1c1c1c" font-weight="normal" text-anchor="start" textLength="34.50" lengthAdjust="spacingAndGlyphs" stroke="#1c1c1c" stroke-width="0.24">&lt;15 days</text>
<text x="273.60" y="560.50" font-size="18.9" fill="#000" font-weight="bold" text-anchor="start" textLength="11.55" lengthAdjust="spacingAndGlyphs">F</text>
<text x="371.30" y="594.30" font-size="11.4" fill="#1c1c1c" font-weight="normal" text-anchor="start" textLength="79.20" lengthAdjust="spacingAndGlyphs" stroke="#1c1c1c" stroke-width="0.24">Non-GCB DLBCL</text>
<text transform="translate(284.00,695.00) rotate(-90)" x="0" y="0" font-size="14.4" fill="#1c1c1c" stroke="#1c1c1c" stroke-width="0.22" textLength="72.70" lengthAdjust="spacingAndGlyphs">Overall survival</text>
<path d="M321.80,596.90V725.70H497.00" fill="none" stroke="#000" stroke-width="1.8" stroke-linejoin="miter"/>
<text x="312.70" y="604.50" font-size="10" fill="#1c1c1c" font-weight="normal" text-anchor="end" textLength="20.20" lengthAdjust="spacingAndGlyphs" stroke="#1c1c1c" stroke-width="0.24">1.00</text>
<text x="312.70" y="634.73" font-size="10" fill="#1c1c1c" font-weight="normal" text-anchor="end" textLength="20.20" lengthAdjust="spacingAndGlyphs" stroke="#1c1c1c" stroke-width="0.24">0.75</text>
<text x="312.70" y="664.95" font-size="10" fill="#1c1c1c" font-weight="normal" text-anchor="end" textLength="20.20" lengthAdjust="spacingAndGlyphs" stroke="#1c1c1c" stroke-width="0.24">0.50</text>
<text x="312.70" y="695.17" font-size="10" fill="#1c1c1c" font-weight="normal" text-anchor="end" textLength="20.20" lengthAdjust="spacingAndGlyphs" stroke="#1c1c1c" stroke-width="0.24">0.25</text>
<text x="327.50" y="744.40" font-size="10.2" fill="#1c1c1c" font-weight="normal" text-anchor="middle" textLength="6.40" lengthAdjust="spacingAndGlyphs" stroke="#1c1c1c" stroke-width="0.24">0</text>
<text x="358.00" y="744.40" font-size="10.2" fill="#1c1c1c" font-weight="normal" text-anchor="middle" textLength="11.40" lengthAdjust="spacingAndGlyphs" stroke="#1c1c1c" stroke-width="0.24">12</text>
<text x="388.50" y="744.40" font-size="10.2" fill="#1c1c1c" font-weight="normal" text-anchor="middle" textLength="11.40" lengthAdjust="spacingAndGlyphs" stroke="#1c1c1c" stroke-width="0.24">24</text>
<text x="419.00" y="744.40" font-size="10.2" fill="#1c1c1c" font-weight="normal" text-anchor="middle" textLength="11.40" lengthAdjust="spacingAndGlyphs" stroke="#1c1c1c" stroke-width="0.24">36</text>
<text x="449.50" y="744.40" font-size="10.2" fill="#1c1c1c" font-weight="normal" text-anchor="middle" textLength="11.40" lengthAdjust="spacingAndGlyphs" stroke="#1c1c1c" stroke-width="0.24">48</text>
<text x="480.00" y="744.40" font-size="10.2" fill="#1c1c1c" font-weight="normal" text-anchor="middle" textLength="11.40" lengthAdjust="spacingAndGlyphs" stroke="#1c1c1c" stroke-width="0.24">60</text>
<path d="M317.40,601.00H321.80M317.40,631.23H321.80M317.40,661.45H321.80M317.40,691.67H321.80M327.50,725.70V729.30M358.00,725.70V729.30M388.50,725.70V729.30M419.00,725.70V729.30M449.50,725.70V729.30M480.00,725.70V729.30" fill="none" stroke="#000" stroke-width="1.5"/>
<path d="M327.40,601.10H339.20V610.00H422.00V622.00H429.00V634.50H492.80" fill="none" stroke="#213f7c" stroke-width="1.9" stroke-linejoin="miter" stroke-linecap="butt"/>
<path d="M341.50,607.80V612.20M364.80,607.80V612.20M392.40,607.80V612.20M444.60,632.30V636.70M452.20,632.30V636.70M461.50,632.30V636.70M476.30,632.30V636.70M488.60,632.30V636.70M491.80,632.30V636.70" fill="none" stroke="#213f7c" stroke-width="1.2"/>
<path d="M327.40,601.10H335.50V611.20H371.80V622.60H373.80V633.80H374.50V644.40H488.60" fill="none" stroke="#ab0a33" stroke-width="1.9" stroke-linejoin="miter" stroke-linecap="butt"/>
<path d="M350.30,609.00V613.40M446.30,642.20V646.60M461.50,642.20V646.60M473.40,642.20V646.60M474.90,642.20V646.60M475.90,642.20V646.60M488.20,642.20V646.60" fill="none" stroke="#ab0a33" stroke-width="1.2"/>
<text x="364.50" y="685.60" font-size="9.1" fill="#1c1c1c" font-weight="normal" text-anchor="middle" textLength="47.10" lengthAdjust="spacingAndGlyphs" stroke="#1c1c1c" stroke-width="0.24">+ Censored;</text>
<text x="364.50" y="696.20" font-size="9.1" fill="#1c1c1c" font-weight="normal" text-anchor="middle" textLength="70.80" lengthAdjust="spacingAndGlyphs" stroke="#1c1c1c" stroke-width="0.24">Logrank p=0.5196</text>
<text x="277.50" y="713.30" font-size="9.5" fill="#4564a0" font-weight="normal" text-anchor="start" textLength="35.00" lengthAdjust="spacingAndGlyphs" stroke="#4564a0" stroke-width="0.24">15+ days</text>
<text x="277.50" y="724.10" font-size="9.5" fill="#bf2448" font-weight="normal" text-anchor="start" textLength="35.00" lengthAdjust="spacingAndGlyphs" stroke="#bf2448" stroke-width="0.24">&lt;15 days</text>
<text x="327.60" y="713.30" font-size="8.9" fill="#4564a0" font-weight="normal" text-anchor="middle" textLength="9.80" lengthAdjust="spacingAndGlyphs" stroke="#4564a0" stroke-width="0.24">14</text>
<text x="327.60" y="724.10" font-size="8.9" fill="#bf2448" font-weight="normal" text-anchor="middle" textLength="9.80" lengthAdjust="spacingAndGlyphs" stroke="#bf2448" stroke-width="0.24">12</text>
<text x="358.10" y="713.30" font-size="8.9" fill="#4564a0" font-weight="normal" text-anchor="middle" textLength="9.80" lengthAdjust="spacingAndGlyphs" stroke="#4564a0" stroke-width="0.24">12</text>
<text x="358.10" y="724.10" font-size="8.9" fill="#bf2448" font-weight="normal" text-anchor="middle" textLength="9.80" lengthAdjust="spacingAndGlyphs" stroke="#bf2448" stroke-width="0.24">10</text>
<text x="388.60" y="713.30" font-size="8.9" fill="#4564a0" font-weight="normal" text-anchor="middle" textLength="9.80" lengthAdjust="spacingAndGlyphs" stroke="#4564a0" stroke-width="0.24">11</text>
<text x="388.60" y="724.10" font-size="8.9" fill="#bf2448" font-weight="normal" text-anchor="middle" textLength="4.90" lengthAdjust="spacingAndGlyphs" stroke="#bf2448" stroke-width="0.24">7</text>
<text x="419.10" y="713.30" font-size="8.9" fill="#4564a0" font-weight="normal" text-anchor="middle" textLength="4.90" lengthAdjust="spacingAndGlyphs" stroke="#4564a0" stroke-width="0.24">9</text>
<text x="419.10" y="724.10" font-size="8.9" fill="#bf2448" font-weight="normal" text-anchor="middle" textLength="4.90" lengthAdjust="spacingAndGlyphs" stroke="#bf2448" stroke-width="0.24">7</text>
<text x="449.60" y="713.30" font-size="8.9" fill="#4564a0" font-weight="normal" text-anchor="middle" textLength="4.90" lengthAdjust="spacingAndGlyphs" stroke="#4564a0" stroke-width="0.24">6</text>
<text x="449.60" y="724.10" font-size="8.9" fill="#bf2448" font-weight="normal" text-anchor="middle" textLength="4.90" lengthAdjust="spacingAndGlyphs" stroke="#bf2448" stroke-width="0.24">6</text>
<text x="480.10" y="713.30" font-size="8.9" fill="#4564a0" font-weight="normal" text-anchor="middle" textLength="4.90" lengthAdjust="spacingAndGlyphs" stroke="#4564a0" stroke-width="0.24">3</text>
<text x="480.10" y="724.10" font-size="8.9" fill="#bf2448" font-weight="normal" text-anchor="middle" textLength="4.90" lengthAdjust="spacingAndGlyphs" stroke="#bf2448" stroke-width="0.24">1</text>
<text x="342.80" y="763.20" font-size="13.7" fill="#1c1c1c" font-weight="normal" text-anchor="start" textLength="133.50" lengthAdjust="spacingAndGlyphs" stroke="#1c1c1c" stroke-width="0.24">Months after randomization</text>
<text x="319.60" y="784.30" font-size="9.6" fill="#1c1c1c" font-weight="normal" text-anchor="start" textLength="15.40" lengthAdjust="spacingAndGlyphs" stroke="#1c1c1c" stroke-width="0.24">DTI:</text>
<path d="M351.00,781.20H376.90" stroke="#213f7c" stroke-width="2.1"/>
<text x="382.20" y="784.30" font-size="9.6" fill="#1c1c1c" font-weight="normal" text-anchor="start" textLength="34.80" lengthAdjust="spacingAndGlyphs" stroke="#1c1c1c" stroke-width="0.24">15+ days</text>
<path d="M432.00,781.20H457.00" stroke="#ab0a33" stroke-width="2.1"/>
<text x="463.00" y="784.30" font-size="9.6" fill="#1c1c1c" font-weight="normal" text-anchor="start" textLength="34.50" lengthAdjust="spacingAndGlyphs" stroke="#1c1c1c" stroke-width="0.24">&lt;15 days</text>
<text x="11.20" y="825.80" font-size="18.9" fill="#000" font-weight="bold" text-anchor="start" textLength="15.14" lengthAdjust="spacingAndGlyphs">G</text>
<text x="122.00" y="845.50" font-size="11.4" fill="#1c1c1c" font-weight="normal" text-anchor="start" textLength="56.00" lengthAdjust="spacingAndGlyphs" stroke="#1c1c1c" stroke-width="0.24">GCB DLBCL</text>
<text transform="translate(22.90,955.90) rotate(-90)" x="0" y="0" font-size="14.4" fill="#1c1c1c" stroke="#1c1c1c" stroke-width="0.22" textLength="86.50" lengthAdjust="spacingAndGlyphs">Event-free survival</text>
<path d="M61.10,850.60V980.60H238.00" fill="none" stroke="#000" stroke-width="1.8" stroke-linejoin="miter"/>
<text x="51.50" y="858.30" font-size="10" fill="#1c1c1c" font-weight="normal" text-anchor="end" textLength="20.20" lengthAdjust="spacingAndGlyphs" stroke="#1c1c1c" stroke-width="0.24">1.00</text>
<text x="51.50" y="888.92" font-size="10" fill="#1c1c1c" font-weight="normal" text-anchor="end" textLength="20.20" lengthAdjust="spacingAndGlyphs" stroke="#1c1c1c" stroke-width="0.24">0.75</text>
<text x="51.50" y="919.55" font-size="10" fill="#1c1c1c" font-weight="normal" text-anchor="end" textLength="20.20" lengthAdjust="spacingAndGlyphs" stroke="#1c1c1c" stroke-width="0.24">0.50</text>
<text x="51.50" y="950.17" font-size="10" fill="#1c1c1c" font-weight="normal" text-anchor="end" textLength="20.20" lengthAdjust="spacingAndGlyphs" stroke="#1c1c1c" stroke-width="0.24">0.25</text>
<text x="66.30" y="1000.00" font-size="10.2" fill="#1c1c1c" font-weight="normal" text-anchor="middle" textLength="6.40" lengthAdjust="spacingAndGlyphs" stroke="#1c1c1c" stroke-width="0.24">0</text>
<text x="97.44" y="1000.00" font-size="10.2" fill="#1c1c1c" font-weight="normal" text-anchor="middle" textLength="11.40" lengthAdjust="spacingAndGlyphs" stroke="#1c1c1c" stroke-width="0.24">12</text>
<text x="128.58" y="1000.00" font-size="10.2" fill="#1c1c1c" font-weight="normal" text-anchor="middle" textLength="11.40" lengthAdjust="spacingAndGlyphs" stroke="#1c1c1c" stroke-width="0.24">24</text>
<text x="159.72" y="1000.00" font-size="10.2" fill="#1c1c1c" font-weight="normal" text-anchor="middle" textLength="11.40" lengthAdjust="spacingAndGlyphs" stroke="#1c1c1c" stroke-width="0.24">36</text>
<text x="190.86" y="1000.00" font-size="10.2" fill="#1c1c1c" font-weight="normal" text-anchor="middle" textLength="11.40" lengthAdjust="spacingAndGlyphs" stroke="#1c1c1c" stroke-width="0.24">48</text>
<text x="222.00" y="1000.00" font-size="10.2" fill="#1c1c1c" font-weight="normal" text-anchor="middle" textLength="11.40" lengthAdjust="spacingAndGlyphs" stroke="#1c1c1c" stroke-width="0.24">60</text>
<path d="M56.70,854.80H61.10M56.70,885.42H61.10M56.70,916.05H61.10M56.70,946.67H61.10M66.30,980.60V984.20M97.44,980.60V984.20M128.58,980.60V984.20M159.72,980.60V984.20M190.86,980.60V984.20M222.00,980.60V984.20" fill="none" stroke="#000" stroke-width="1.5"/>
<path d="M67.40,854.50H67.40V862.00H234.40" fill="none" stroke="#213f7c" stroke-width="1.9" stroke-linejoin="miter" stroke-linecap="butt"/>
<path d="M93.00,859.80V864.20M157.00,859.80V864.20M158.00,859.80V864.20M165.00,859.80V864.20M170.00,859.80V864.20M171.30,859.80V864.20M186.50,859.80V864.20M192.80,859.80V864.20M201.00,859.80V864.20M201.50,859.80V864.20M214.40,859.80V864.20M216.30,859.80V864.20M233.80,859.80V864.20" fill="none" stroke="#213f7c" stroke-width="1.2"/>
<path d="M67.40,854.50H67.40V862.00H69.70V869.00H70.40V876.30H76.20V883.70H77.90V890.80H91.90V898.20H174.60V913.50H191.50V934.60H203.10" fill="none" stroke="#ab0a33" stroke-width="1.9" stroke-linejoin="miter" stroke-linecap="butt"/>
<path d="M112.20,896.00V900.40M121.90,896.00V900.40M156.90,896.00V900.40M158.20,896.00V900.40M169.20,896.00V900.40M189.50,911.30V915.70M192.00,932.40V936.80M202.30,932.40V936.80" fill="none" stroke="#ab0a33" stroke-width="1.2"/>
<text x="103.70" y="936.20" font-size="9.1" fill="#1c1c1c" font-weight="normal" text-anchor="middle" textLength="47.10" lengthAdjust="spacingAndGlyphs" stroke="#1c1c1c" stroke-width="0.24">+ Censored;</text>
<text x="103.70" y="946.30" font-size="9.1" fill="#1c1c1c" font-weight="normal" text-anchor="middle" textLength="70.70" lengthAdjust="spacingAndGlyphs" stroke="#1c1c1c" stroke-width="0.24">Logrank p=0.0059</text>
<text x="16.50" y="968.30" font-size="9.5" fill="#4564a0" font-weight="normal" text-anchor="start" textLength="34.80" lengthAdjust="spacingAndGlyphs" stroke="#4564a0" stroke-width="0.24">15+ days</text>
<text x="16.50" y="979.10" font-size="9.5" fill="#bf2448" font-weight="normal" text-anchor="start" textLength="34.80" lengthAdjust="spacingAndGlyphs" stroke="#bf2448" stroke-width="0.24">&lt;15 days</text>
<text x="66.40" y="968.30" font-size="8.9" fill="#4564a0" font-weight="normal" text-anchor="middle" textLength="9.80" lengthAdjust="spacingAndGlyphs" stroke="#4564a0" stroke-width="0.24">17</text>
<text x="66.40" y="979.10" font-size="8.9" fill="#bf2448" font-weight="normal" text-anchor="middle" textLength="9.80" lengthAdjust="spacingAndGlyphs" stroke="#bf2448" stroke-width="0.24">17</text>
<text x="97.54" y="968.30" font-size="8.9" fill="#4564a0" font-weight="normal" text-anchor="middle" textLength="9.80" lengthAdjust="spacingAndGlyphs" stroke="#4564a0" stroke-width="0.24">15</text>
<text x="97.54" y="979.10" font-size="8.9" fill="#bf2448" font-weight="normal" text-anchor="middle" textLength="9.80" lengthAdjust="spacingAndGlyphs" stroke="#bf2448" stroke-width="0.24">11</text>
<text x="128.68" y="968.30" font-size="8.9" fill="#4564a0" font-weight="normal" text-anchor="middle" textLength="9.80" lengthAdjust="spacingAndGlyphs" stroke="#4564a0" stroke-width="0.24">15</text>
<text x="128.68" y="979.10" font-size="8.9" fill="#bf2448" font-weight="normal" text-anchor="middle" textLength="4.90" lengthAdjust="spacingAndGlyphs" stroke="#bf2448" stroke-width="0.24">8</text>
<text x="159.82" y="968.30" font-size="8.9" fill="#4564a0" font-weight="normal" text-anchor="middle" textLength="9.80" lengthAdjust="spacingAndGlyphs" stroke="#4564a0" stroke-width="0.24">13</text>
<text x="159.82" y="979.10" font-size="8.9" fill="#bf2448" font-weight="normal" text-anchor="middle" textLength="4.90" lengthAdjust="spacingAndGlyphs" stroke="#bf2448" stroke-width="0.24">6</text>
<text x="190.96" y="968.30" font-size="8.9" fill="#4564a0" font-weight="normal" text-anchor="middle" textLength="4.90" lengthAdjust="spacingAndGlyphs" stroke="#4564a0" stroke-width="0.24">8</text>
<text x="190.96" y="979.10" font-size="8.9" fill="#bf2448" font-weight="normal" text-anchor="middle" textLength="4.90" lengthAdjust="spacingAndGlyphs" stroke="#bf2448" stroke-width="0.24">3</text>
<text x="222.10" y="968.30" font-size="8.9" fill="#4564a0" font-weight="normal" text-anchor="middle" textLength="4.90" lengthAdjust="spacingAndGlyphs" stroke="#4564a0" stroke-width="0.24">1</text>
<text x="222.10" y="979.10" font-size="8.9" fill="#bf2448" font-weight="normal" text-anchor="middle" textLength="4.90" lengthAdjust="spacingAndGlyphs" stroke="#bf2448" stroke-width="0.24">0</text>
<text x="82.80" y="1018.70" font-size="13.7" fill="#1c1c1c" font-weight="normal" text-anchor="start" textLength="133.50" lengthAdjust="spacingAndGlyphs" stroke="#1c1c1c" stroke-width="0.24">Months after randomization</text>
<text x="63.80" y="1040.40" font-size="9.6" fill="#1c1c1c" font-weight="normal" text-anchor="start" textLength="16.00" lengthAdjust="spacingAndGlyphs" stroke="#1c1c1c" stroke-width="0.24">DTI:</text>
<path d="M95.60,1037.10H121.60" stroke="#213f7c" stroke-width="2.1"/>
<text x="127.00" y="1040.40" font-size="9.6" fill="#1c1c1c" font-weight="normal" text-anchor="start" textLength="34.30" lengthAdjust="spacingAndGlyphs" stroke="#1c1c1c" stroke-width="0.24">15+ days</text>
<path d="M176.20,1037.10H202.00" stroke="#ab0a33" stroke-width="2.1"/>
<text x="207.50" y="1040.40" font-size="9.6" fill="#1c1c1c" font-weight="normal" text-anchor="start" textLength="34.50" lengthAdjust="spacingAndGlyphs" stroke="#1c1c1c" stroke-width="0.24">&lt;15 days</text>
<text x="272.50" y="826.00" font-size="18.9" fill="#000" font-weight="bold" text-anchor="start" textLength="14.88" lengthAdjust="spacingAndGlyphs">H</text>
<text x="382.80" y="845.50" font-size="11.4" fill="#1c1c1c" font-weight="normal" text-anchor="start" textLength="56.20" lengthAdjust="spacingAndGlyphs" stroke="#1c1c1c" stroke-width="0.24">GCB DLBCL</text>
<text transform="translate(284.00,952.50) rotate(-90)" x="0" y="0" font-size="14.4" fill="#1c1c1c" stroke="#1c1c1c" stroke-width="0.22" textLength="72.70" lengthAdjust="spacingAndGlyphs">Overall survival</text>
<path d="M321.80,850.20V980.50H499.50" fill="none" stroke="#000" stroke-width="1.8" stroke-linejoin="miter"/>
<text x="312.70" y="862.50" font-size="10" fill="#1c1c1c" font-weight="normal" text-anchor="end" textLength="20.20" lengthAdjust="spacingAndGlyphs" stroke="#1c1c1c" stroke-width="0.24">1.00</text>
<text x="312.70" y="892.50" font-size="10" fill="#1c1c1c" font-weight="normal" text-anchor="end" textLength="20.20" lengthAdjust="spacingAndGlyphs" stroke="#1c1c1c" stroke-width="0.24">0.75</text>
<text x="312.70" y="922.50" font-size="10" fill="#1c1c1c" font-weight="normal" text-anchor="end" textLength="20.20" lengthAdjust="spacingAndGlyphs" stroke="#1c1c1c" stroke-width="0.24">0.50</text>
<text x="312.70" y="952.50" font-size="10" fill="#1c1c1c" font-weight="normal" text-anchor="end" textLength="20.20" lengthAdjust="spacingAndGlyphs" stroke="#1c1c1c" stroke-width="0.24">0.25</text>
<text x="327.20" y="999.60" font-size="10.2" fill="#1c1c1c" font-weight="normal" text-anchor="middle" textLength="6.40" lengthAdjust="spacingAndGlyphs" stroke="#1c1c1c" stroke-width="0.24">0</text>
<text x="358.45" y="999.60" font-size="10.2" fill="#1c1c1c" font-weight="normal" text-anchor="middle" textLength="11.40" lengthAdjust="spacingAndGlyphs" stroke="#1c1c1c" stroke-width="0.24">12</text>
<text x="389.70" y="999.60" font-size="10.2" fill="#1c1c1c" font-weight="normal" text-anchor="middle" textLength="11.40" lengthAdjust="spacingAndGlyphs" stroke="#1c1c1c" stroke-width="0.24">24</text>
<text x="420.95" y="999.60" font-size="10.2" fill="#1c1c1c" font-weight="normal" text-anchor="middle" textLength="11.40" lengthAdjust="spacingAndGlyphs" stroke="#1c1c1c" stroke-width="0.24">36</text>
<text x="452.20" y="999.60" font-size="10.2" fill="#1c1c1c" font-weight="normal" text-anchor="middle" textLength="11.40" lengthAdjust="spacingAndGlyphs" stroke="#1c1c1c" stroke-width="0.24">48</text>
<text x="483.45" y="999.60" font-size="10.2" fill="#1c1c1c" font-weight="normal" text-anchor="middle" textLength="11.40" lengthAdjust="spacingAndGlyphs" stroke="#1c1c1c" stroke-width="0.24">60</text>
<path d="M317.40,854.40H321.80M317.40,885.02H321.80M317.40,915.65H321.80M317.40,946.27H321.80M327.20,980.50V984.10M358.45,980.50V984.10M389.70,980.50V984.10M420.95,980.50V984.10M452.20,980.50V984.10M483.45,980.50V984.10" fill="none" stroke="#000" stroke-width="1.5"/>
<path d="M328.30,854.00H328.30V861.60H494.60" fill="none" stroke="#213f7c" stroke-width="1.9" stroke-linejoin="miter" stroke-linecap="butt"/>
<path d="M354.10,859.40V863.80M417.70,859.40V863.80M418.50,859.40V863.80M426.00,859.40V863.80M430.80,859.40V863.80M431.70,859.40V863.80M447.70,859.40V863.80M453.80,859.40V863.80M461.50,859.40V863.80M462.50,859.40V863.80M475.40,859.40V863.80M476.90,859.40V863.80M494.20,859.40V863.80" fill="none" stroke="#213f7c" stroke-width="1.2"/>
<path d="M328.30,854.00H328.30V861.60H330.70V868.80H345.10V876.30H346.50V884.30H357.80V891.80H477.90" fill="none" stroke="#ab0a33" stroke-width="1.9" stroke-linejoin="miter" stroke-linecap="butt"/>
<path d="M342.80,866.60V871.00M373.00,889.60V894.00M383.30,889.60V894.00M417.70,889.60V894.00M419.60,889.60V894.00M430.40,889.60V894.00M449.60,889.60V894.00M452.30,889.60V894.00M455.80,889.60V894.00M463.10,889.60V894.00M476.90,889.60V894.00" fill="none" stroke="#ab0a33" stroke-width="1.2"/>
<text x="364.50" y="936.20" font-size="9.1" fill="#1c1c1c" font-weight="normal" text-anchor="middle" textLength="47.10" lengthAdjust="spacingAndGlyphs" stroke="#1c1c1c" stroke-width="0.24">+ Censored;</text>
<text x="364.50" y="946.30" font-size="9.1" fill="#1c1c1c" font-weight="normal" text-anchor="middle" textLength="70.80" lengthAdjust="spacingAndGlyphs" stroke="#1c1c1c" stroke-width="0.24">Logrank p=0.0819</text>
<text x="277.50" y="968.30" font-size="9.5" fill="#4564a0" font-weight="normal" text-anchor="start" textLength="34.80" lengthAdjust="spacingAndGlyphs" stroke="#4564a0" stroke-width="0.24">15+ days</text>
<text x="277.50" y="979.10" font-size="9.5" fill="#bf2448" font-weight="normal" text-anchor="start" textLength="34.80" lengthAdjust="spacingAndGlyphs" stroke="#bf2448" stroke-width="0.24">&lt;15 days</text>
<text x="327.30" y="968.30" font-size="8.9" fill="#4564a0" font-weight="normal" text-anchor="middle" textLength="9.80" lengthAdjust="spacingAndGlyphs" stroke="#4564a0" stroke-width="0.24">17</text>
<text x="327.30" y="979.10" font-size="8.9" fill="#bf2448" font-weight="normal" text-anchor="middle" textLength="9.80" lengthAdjust="spacingAndGlyphs" stroke="#bf2448" stroke-width="0.24">17</text>
<text x="358.55" y="968.30" font-size="8.9" fill="#4564a0" font-weight="normal" text-anchor="middle" textLength="9.80" lengthAdjust="spacingAndGlyphs" stroke="#4564a0" stroke-width="0.24">15</text>
<text x="358.55" y="979.10" font-size="8.9" fill="#bf2448" font-weight="normal" text-anchor="middle" textLength="9.80" lengthAdjust="spacingAndGlyphs" stroke="#bf2448" stroke-width="0.24">11</text>
<text x="389.80" y="968.30" font-size="8.9" fill="#4564a0" font-weight="normal" text-anchor="middle" textLength="9.80" lengthAdjust="spacingAndGlyphs" stroke="#4564a0" stroke-width="0.24">15</text>
<text x="389.80" y="979.10" font-size="8.9" fill="#bf2448" font-weight="normal" text-anchor="middle" textLength="4.90" lengthAdjust="spacingAndGlyphs" stroke="#bf2448" stroke-width="0.24">8</text>
<text x="421.05" y="968.30" font-size="8.9" fill="#4564a0" font-weight="normal" text-anchor="middle" textLength="9.80" lengthAdjust="spacingAndGlyphs" stroke="#4564a0" stroke-width="0.24">13</text>
<text x="421.05" y="979.10" font-size="8.9" fill="#bf2448" font-weight="normal" text-anchor="middle" textLength="4.90" lengthAdjust="spacingAndGlyphs" stroke="#bf2448" stroke-width="0.24">6</text>
<text x="452.30" y="968.30" font-size="8.9" fill="#4564a0" font-weight="normal" text-anchor="middle" textLength="4.90" lengthAdjust="spacingAndGlyphs" stroke="#4564a0" stroke-width="0.24">8</text>
<text x="452.30" y="979.10" font-size="8.9" fill="#bf2448" font-weight="normal" text-anchor="middle" textLength="4.90" lengthAdjust="spacingAndGlyphs" stroke="#bf2448" stroke-width="0.24">4</text>
<text x="483.55" y="968.30" font-size="8.9" fill="#4564a0" font-weight="normal" text-anchor="middle" textLength="4.90" lengthAdjust="spacingAndGlyphs" stroke="#4564a0" stroke-width="0.24">1</text>
<text x="483.55" y="979.10" font-size="8.9" fill="#bf2448" font-weight="normal" text-anchor="middle" textLength="4.90" lengthAdjust="spacingAndGlyphs" stroke="#bf2448" stroke-width="0.24">0</text>
<text x="343.50" y="1018.70" font-size="13.7" fill="#1c1c1c" font-weight="normal" text-anchor="start" textLength="133.50" lengthAdjust="spacingAndGlyphs" stroke="#1c1c1c" stroke-width="0.24">Months after randomization</text>
<text x="319.60" y="1040.40" font-size="9.6" fill="#1c1c1c" font-weight="normal" text-anchor="start" textLength="15.40" lengthAdjust="spacingAndGlyphs" stroke="#1c1c1c" stroke-width="0.24">DTI:</text>
<path d="M351.00,1037.10H376.90" stroke="#213f7c" stroke-width="2.1"/>
<text x="382.20" y="1040.40" font-size="9.6" fill="#1c1c1c" font-weight="normal" text-anchor="start" textLength="34.80" lengthAdjust="spacingAndGlyphs" stroke="#1c1c1c" stroke-width="0.24">15+ days</text>
<path d="M432.00,1037.10H457.00" stroke="#ab0a33" stroke-width="2.1"/>
<text x="463.00" y="1040.40" font-size="9.6" fill="#1c1c1c" font-weight="normal" text-anchor="start" textLength="34.50" lengthAdjust="spacingAndGlyphs" stroke="#1c1c1c" stroke-width="0.24">&lt;15 days</text>
</svg>
</body></html>
